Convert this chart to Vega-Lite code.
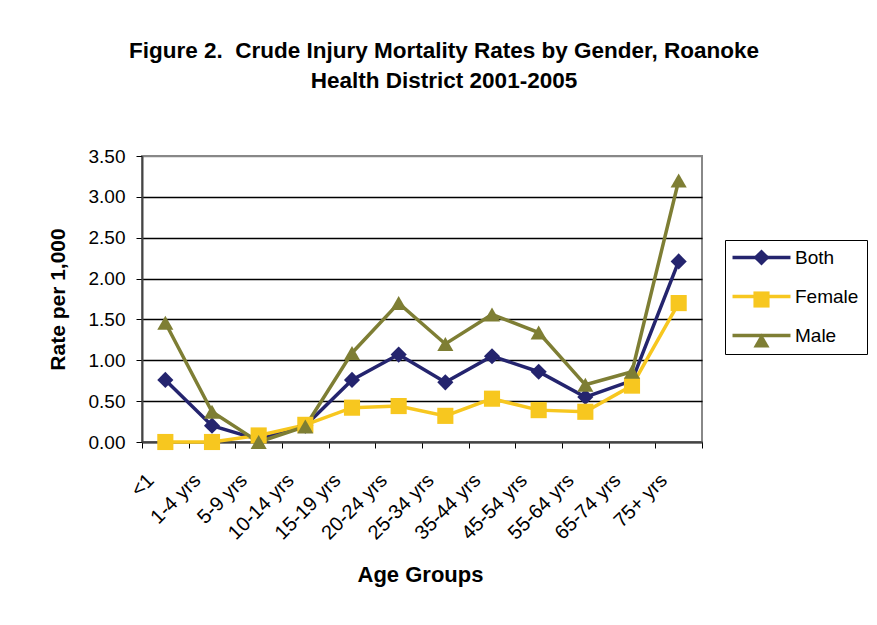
{
  "$schema": "https://vega.github.io/schema/vega-lite/v6.json",
  "width": 560,
  "height": 286,
  "autosize": {"type": "none"},
  "padding": {"left": 142, "top": 156, "right": 175, "bottom": 183},
  "background": "white",
  "title": {
    "text": ["Figure 2.\u00a0 Crude Injury Mortality Rates by Gender, Roanoke", "Health District 2001-2005"],
    "font": "Liberation Sans",
    "fontSize": 22.5,
    "fontWeight": "bold",
    "color": "black",
    "anchor": "middle",
    "frame": "group",
    "dx": 22,
    "offset": 55,
    "lineHeight": 30
  },
  "data": {
    "values": [
      {"age": "<1", "series": "Both", "rate": 0.76},
      {"age": "1-4 yrs", "series": "Both", "rate": 0.2},
      {"age": "5-9 yrs", "series": "Both", "rate": 0.03},
      {"age": "10-14 yrs", "series": "Both", "rate": 0.2},
      {"age": "15-19 yrs", "series": "Both", "rate": 0.76},
      {"age": "20-24 yrs", "series": "Both", "rate": 1.07},
      {"age": "25-34 yrs", "series": "Both", "rate": 0.73},
      {"age": "35-44 yrs", "series": "Both", "rate": 1.05},
      {"age": "45-54 yrs", "series": "Both", "rate": 0.86},
      {"age": "55-64 yrs", "series": "Both", "rate": 0.55},
      {"age": "65-74 yrs", "series": "Both", "rate": 0.75},
      {"age": "75+ yrs", "series": "Both", "rate": 2.21},
      {"age": "<1", "series": "Female", "rate": 0.0},
      {"age": "1-4 yrs", "series": "Female", "rate": 0.0},
      {"age": "5-9 yrs", "series": "Female", "rate": 0.08},
      {"age": "10-14 yrs", "series": "Female", "rate": 0.21},
      {"age": "15-19 yrs", "series": "Female", "rate": 0.42},
      {"age": "20-24 yrs", "series": "Female", "rate": 0.44},
      {"age": "25-34 yrs", "series": "Female", "rate": 0.32},
      {"age": "35-44 yrs", "series": "Female", "rate": 0.53},
      {"age": "45-54 yrs", "series": "Female", "rate": 0.39},
      {"age": "55-64 yrs", "series": "Female", "rate": 0.37},
      {"age": "65-74 yrs", "series": "Female", "rate": 0.69},
      {"age": "75+ yrs", "series": "Female", "rate": 1.7},
      {"age": "<1", "series": "Male", "rate": 1.46},
      {"age": "1-4 yrs", "series": "Male", "rate": 0.37},
      {"age": "5-9 yrs", "series": "Male", "rate": 0.0},
      {"age": "10-14 yrs", "series": "Male", "rate": 0.19},
      {"age": "15-19 yrs", "series": "Male", "rate": 1.09},
      {"age": "20-24 yrs", "series": "Male", "rate": 1.7},
      {"age": "25-34 yrs", "series": "Male", "rate": 1.2},
      {"age": "35-44 yrs", "series": "Male", "rate": 1.56},
      {"age": "45-54 yrs", "series": "Male", "rate": 1.34},
      {"age": "55-64 yrs", "series": "Male", "rate": 0.7},
      {"age": "65-74 yrs", "series": "Male", "rate": 0.86},
      {"age": "75+ yrs", "series": "Male", "rate": 3.2}
    ]
  },
  "encoding": {
    "x": {
      "field": "age",
      "type": "ordinal",
      "sort": ["<1", "1-4 yrs", "5-9 yrs", "10-14 yrs", "15-19 yrs", "20-24 yrs", "25-34 yrs", "35-44 yrs", "45-54 yrs", "55-64 yrs", "65-74 yrs", "75+ yrs"],
      "scale": {"type": "band", "paddingInner": 0, "paddingOuter": 0},
      "axis": {
        "title": "Age Groups",
        "titleFont": "Liberation Sans",
        "titleFontSize": 22,
        "titleFontWeight": "bold",
        "titleColor": "black",
        "titlePadding": 21,
        "titleX": 278,
        "labelFont": "Liberation Sans",
        "labelFontSize": 20,
        "labelColor": "black",
        "labelAngle": -45,
        "labelAlign": "right",
        "labelBaseline": "middle",
        "labelPadding": 29,
        "labelOffset": -15,
        "tickBand": "extent",
        "tickColor": "black",
        "tickSize": 6,
        "domainColor": "#444444",
        "domainWidth": 2,
        "grid": false
      }
    },
    "y": {
      "field": "rate",
      "type": "quantitative",
      "scale": {"domain": [0, 3.5], "nice": false},
      "axis": {
        "title": "Rate per 1,000",
        "titleFont": "Liberation Sans",
        "titleFontSize": 21,
        "titleFontWeight": "bold",
        "titleColor": "black",
        "titlePadding": 20,
        "labelFont": "Liberation Sans",
        "labelFontSize": 19,
        "labelColor": "black",
        "labelPadding": 11,
        "format": ".2f",
        "values": [0, 0.5, 1, 1.5, 2, 2.5, 3, 3.5],
        "tickColor": "black",
        "tickSize": 6,
        "domainColor": "#444444",
        "domainWidth": 2,
        "grid": true,
        "gridColor": {"condition": {"test": "datum.value >= 3.5", "value": "#888888"}, "value": "black"},
        "gridWidth": 1.5
      }
    }
  },
  "layer": [
    {
      "mark": {"type": "line", "strokeWidth": 3.5},
      "encoding": {
        "color": {
          "field": "series",
          "type": "nominal",
          "scale": {"domain": ["Both", "Female", "Male"], "range": ["#24246e", "#f7c71f", "#7e7e34"]},
          "legend": {
            "title": null,
            "orient": "none",
            "legendX": 583,
            "legendY": 84,
            "symbolType": "M-4,0H4",
            "symbolSize": 210,
            "symbolStrokeWidth": 3.5,
            "symbolOffset": 19,
            "labelFont": "Liberation Sans",
            "labelFontSize": 19,
            "labelColor": "black",
            "labelOffset": 24,
            "rowPadding": 19,
            "padding": 8,
            "strokeColor": "black"
          }
        }
      }
    },
    {
      "mark": {"type": "point", "filled": true, "opacity": 1, "size": 260},
      "encoding": {
        "color": {
          "field": "series",
          "type": "nominal",
          "legend": {
            "title": null,
            "orient": "none",
            "legendX": 583,
            "legendY": 84,
            "symbolSize": 260,
            "symbolStrokeWidth": 1.5,
            "symbolOffset": 19,
            "symbolOpacity": 1,
            "labelFont": "Liberation Sans",
            "labelFontSize": 19,
            "labelExpr": "''",
            "labelOffset": 6,
            "rowPadding": 19,
            "padding": 8
          }
        },
        "shape": {
          "field": "series",
          "type": "nominal",
          "scale": {"domain": ["Both", "Female", "Male"], "range": ["diamond", "square", "triangle-up"]},
          "legend": {
            "title": null,
            "orient": "none",
            "legendX": 583,
            "legendY": 84,
            "symbolSize": 260,
            "symbolStrokeWidth": 1.5,
            "symbolOffset": 19,
            "symbolOpacity": 1,
            "labelFont": "Liberation Sans",
            "labelFontSize": 19,
            "labelExpr": "''",
            "labelOffset": 6,
            "rowPadding": 19,
            "padding": 8
          }
        }
      }
    }
  ],
  "resolve": {"legend": {"color": "independent", "shape": "independent"}},
  "config": {
    "view": {"stroke": "#888888", "strokeWidth": 2}
  }
}
